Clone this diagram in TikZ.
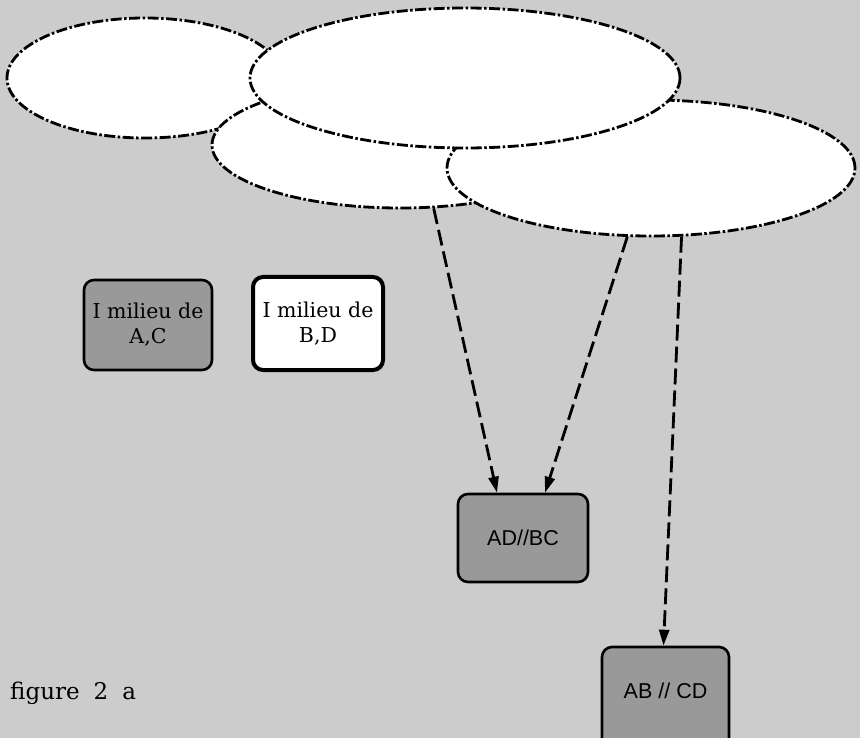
\documentclass[tikz,border=0pt]{standalone}
\usepackage{fontspec}
\setmainfont{DejaVu Serif}
\setsansfont{Liberation Sans}
\usetikzlibrary{shapes.geometric,arrows.meta,calc}
\definecolor{bgdots}{gray}{0.80}
\definecolor{boxdots}{gray}{0.60}
\tikzset{
  bubble/.style={ellipse, draw=black, fill=white, line width=2.8pt, inner sep=0pt,
    dash pattern=on 11pt off 2.5pt on 2.5pt off 2.5pt},
  greybox/.style={rectangle, rounded corners=10pt, draw=black, fill=boxdots, line width=2.6pt,
    minimum width=128pt, inner sep=0pt, align=center},
  whitebox/.style={greybox, fill=white, line width=4pt},
  serif/.style={font=\fontsize{20.5}{25}\selectfont},
  sanstext/.style={font=\sffamily\fontsize{21.5}{24}\selectfont},
  link/.style={line width=2.8pt, dash pattern=on 16pt off 6pt,
    -{Triangle[length=16pt,width=10pt]}}
}
\begin{document}
\begin{tikzpicture}[x=1pt,y=-1pt]
\useasboundingbox (0,0) rectangle (860,738);
\clip (0,0) rectangle (860,738);
\fill[bgdots] (0,0) rectangle (860,738);
% ellipses
\node[bubble, minimum width=276pt, minimum height=120pt] (e1) at (145,78) {};
\node[bubble, minimum width=376pt, minimum height=126pt] (e3) at (400,145) {};
\node[bubble, minimum width=408pt, minimum height=136pt] (e4) at (651,168) {};
\node[bubble, minimum width=430pt, minimum height=140pt] (e2) at (465,78) {};
% boxes
\node[greybox, serif, minimum height=90pt] (ac) at (148,325) {I milieu de\\A,C};
\node[whitebox, serif, minimum height=93pt, minimum width=130pt] (bd) at (318,323.5) {I milieu de\\B,D};
\node[greybox, sanstext, minimum width=130pt, minimum height=88pt] (adbc) at (523,538) {AD//BC};
\node[greybox, minimum width=127pt, minimum height=110pt] (abcd) at (665.5,702) {};
\node[sanstext, inner sep=0pt] (abcdt) at (665.5,691) {AB // CD};
\node[anchor=base west, inner sep=0pt, font=\fontsize{23}{26}\selectfont] (fig) at (10,699) {figure\hspace{14pt}2\hspace{14pt}a};
% connectors
\draw[link] (e3.-62) -- ($(adbc.north)+(-26,0)$);
\draw[link] (e4.-109) -- ($(adbc.north)+(22,0)$);
\draw[link] (e4.-66.6) -- ($(abcd.north)+(-2,0)$);
\end{tikzpicture}
\end{document}
